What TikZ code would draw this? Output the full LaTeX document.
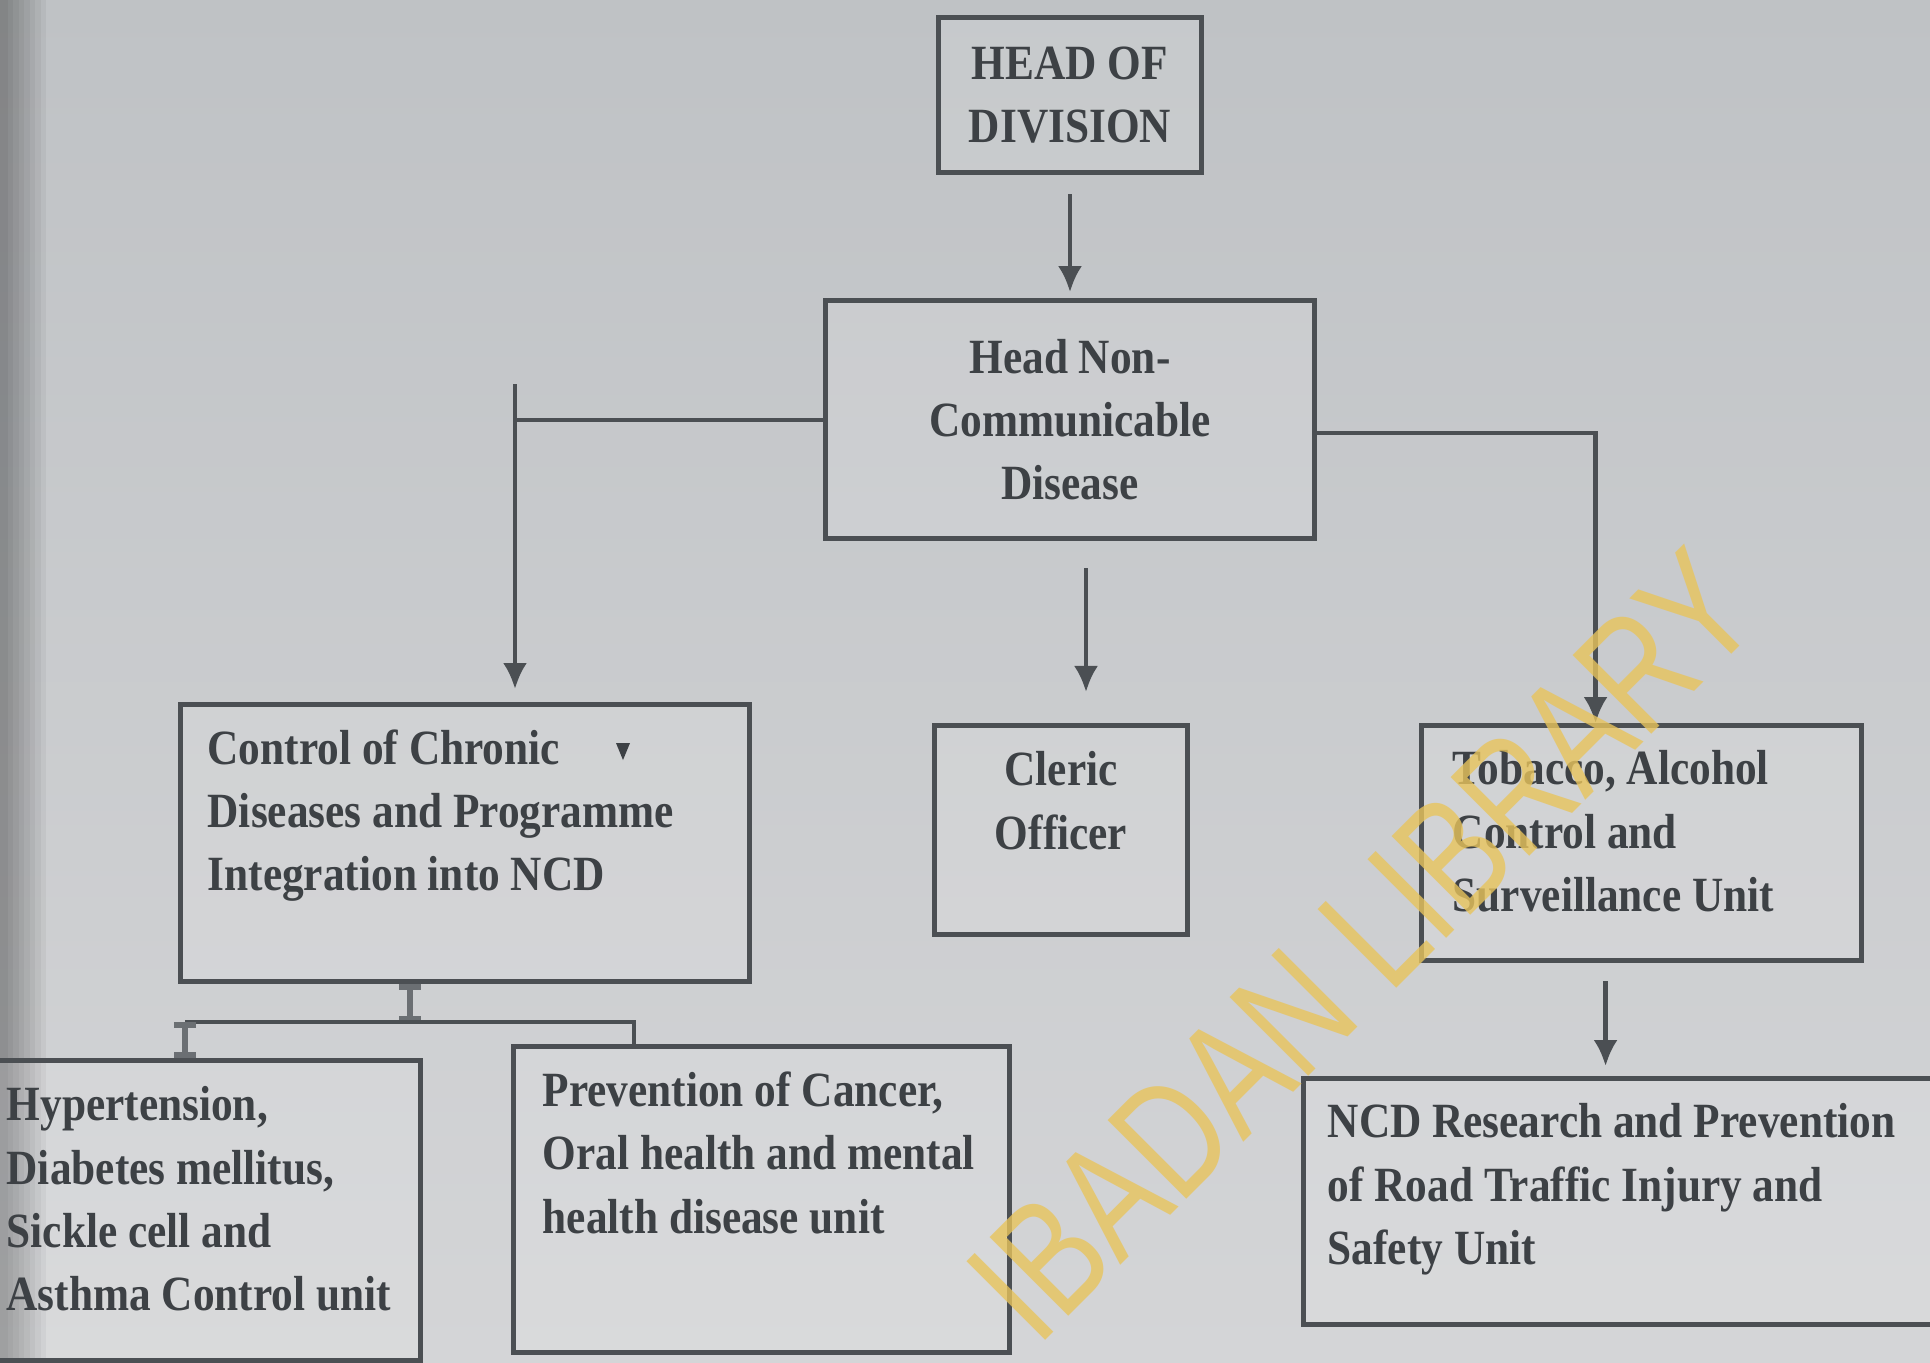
\documentclass[tikz,border=0pt]{standalone}
\usepackage{fontspec}
\setmainfont[FakeStretch=0.88]{Liberation Serif}
\newfontfamily\wmfont[FakeStretch=0.77]{Liberation Sans}
\usetikzlibrary{arrows.meta, positioning, calc}

\definecolor{bgtop}{HTML}{BFC2C5}
\definecolor{bgbottom}{HTML}{D4D5D7}
\definecolor{inkgray}{HTML}{3D4145}
\definecolor{linegray}{HTML}{4B4F53}
\definecolor{beamgray}{HTML}{6B6F73}
\definecolor{wmyellow}{HTML}{E8C45C}

\tikzset{
  unit/.style={rectangle, draw=linegray, line width=1.4pt, fill=white, fill opacity=0.12,
    draw opacity=1, text opacity=1, inner sep=0pt, anchor=north west},
  headbox/.style={unit, anchor=center, align=center, text=inkgray,
    font=\bfseries\fontsize{14}{18}\selectfont},
  unittext/.style={font=\bfseries\fontsize{14}{18}\selectfont, text=inkgray,
    inner sep=0pt, align=left, anchor=north west},
  link/.style={draw=linegray, line width=1.2pt},
  arrow/.style={link, -{Latex[length=2.6mm, width=2.4mm]}},
  beam/.style={draw=beamgray, line width=1.6pt, {Bar[width=2.2mm]}-{Bar[width=2.2mm]}},
  watermark/.style={font=\wmfont\fontsize{46}{46}\selectfont, text=wmyellow,
    text opacity=0.8, inner sep=0pt},
}

\begin{document}
\begin{tikzpicture}[x=0.01cm, y=-0.01cm]
  % background of the scanned page
  \useasboundingbox (0,0) rectangle (1930,1362);
  \shade[top color=bgtop, bottom color=bgbottom] (0,0) rectangle (1930,1362);
  \foreach \i in {0,...,7}
    \fill[black, opacity=0.045] (0,0) rectangle ({46-5.5*\i},1362);

  % top of the chart
  \node[headbox, minimum width=2.63cm, minimum height=1.55cm] (hod) at (1070,95) {HEAD OF\\DIVISION};
  \node[headbox, minimum width=4.89cm, minimum height=2.38cm, below=1.23cm of hod] (hnc) {Head Non-\\Communicable\\Disease};

  % second row
  \node[unit, minimum width=5.69cm, minimum height=2.77cm] (ctrl) at (178,702) {};
  \node[unit, minimum width=2.53cm, minimum height=2.09cm] (cl) at (932,723) {};
  \node[unit, minimum width=4.40cm, minimum height=2.35cm] (tob) at (1419,723) {};

  % third row
  \node[unit, minimum width=4.38cm, minimum height=3.00cm] (hyp) at (-20,1058) {};
  \node[unit, minimum width=4.96cm, minimum height=3.06cm] (prev) at (511,1044) {};
  \node[unit, minimum width=6.59cm, minimum height=2.46cm] (ncdr) at (1301,1076) {};

  % texts of the units
  \node[unittext] (ctrltxt) at ([shift={(29,27)}]ctrl.north west) {Control of Chronic\\Diseases and Programme\\Integration into NCD};
  \node[unittext, anchor=north, align=center] (cltxt) at ([yshift=-0.28cm]cl.north) {Cleric\\Officer};
  \node[unittext] (tobtxt) at ([shift={(33,27)}]tob.north west) {Tobacco, Alcohol\\Control and\\Surveillance Unit};
  \node[unittext] (hyptxt) at ([shift={(26,28)}]hyp.north west) {Hypertension,\\Diabetes mellitus,\\Sickle cell and\\Asthma Control unit};
  \node[unittext] (prevtxt) at ([shift={(31,27)}]prev.north west) {Prevention of Cancer,\\Oral health and mental\\health disease unit};
  \node[unittext] (ncdrtxt) at ([shift={(26,27)}]ncdr.north west) {NCD Research and Prevention\\of Road Traffic Injury and\\Safety Unit};

  % connectors
  \coordinate (ltop) at (515,384);
  \draw[arrow, shorten <=0.19cm, shorten >=0.06cm] (hod.south) -- (hod.south |- hnc.north);
  \draw[link] (hnc.west) -| (ltop);
  \draw[arrow, shorten >=0.13cm] (ltop) -- (ltop |- ctrl.north);
  \draw[arrow, shorten <=0.27cm, shorten >=0.31cm] ([xshift=0.16cm]hnc.south) -- ([xshift=0.16cm]hnc.south |- cl.north);
  \draw[arrow] ([yshift=-0.13cm]hnc.east) -| ([xshift=-0.46cm]tob.north);
  \draw[arrow, shorten <=0.18cm, shorten >=0.1cm] ([xshift=-0.36cm]tob.south) -- ([xshift=-0.36cm]tob.south |- ncdr.north);

  \coordinate (csplit) at (410,1022);
  \coordinate (hsplit) at (185,1022);
  \coordinate (psplit) at (634,1022);
  \draw[beam] (csplit |- ctrl.south) -- (csplit);
  \draw[link] (hsplit) -- (psplit) -- (psplit |- prev.north);
  \draw[beam] (hsplit) -- (hsplit |- hyp.north);

  % stray tip in the first unit
  \fill[inkgray] (616,743) -- (630,743) -- (623,760) -- cycle;

  % library stamp
  \node[watermark, rotate=45] (wm) at (1362,945) {IBADAN LIBRARY};
\end{tikzpicture}
\end{document}
